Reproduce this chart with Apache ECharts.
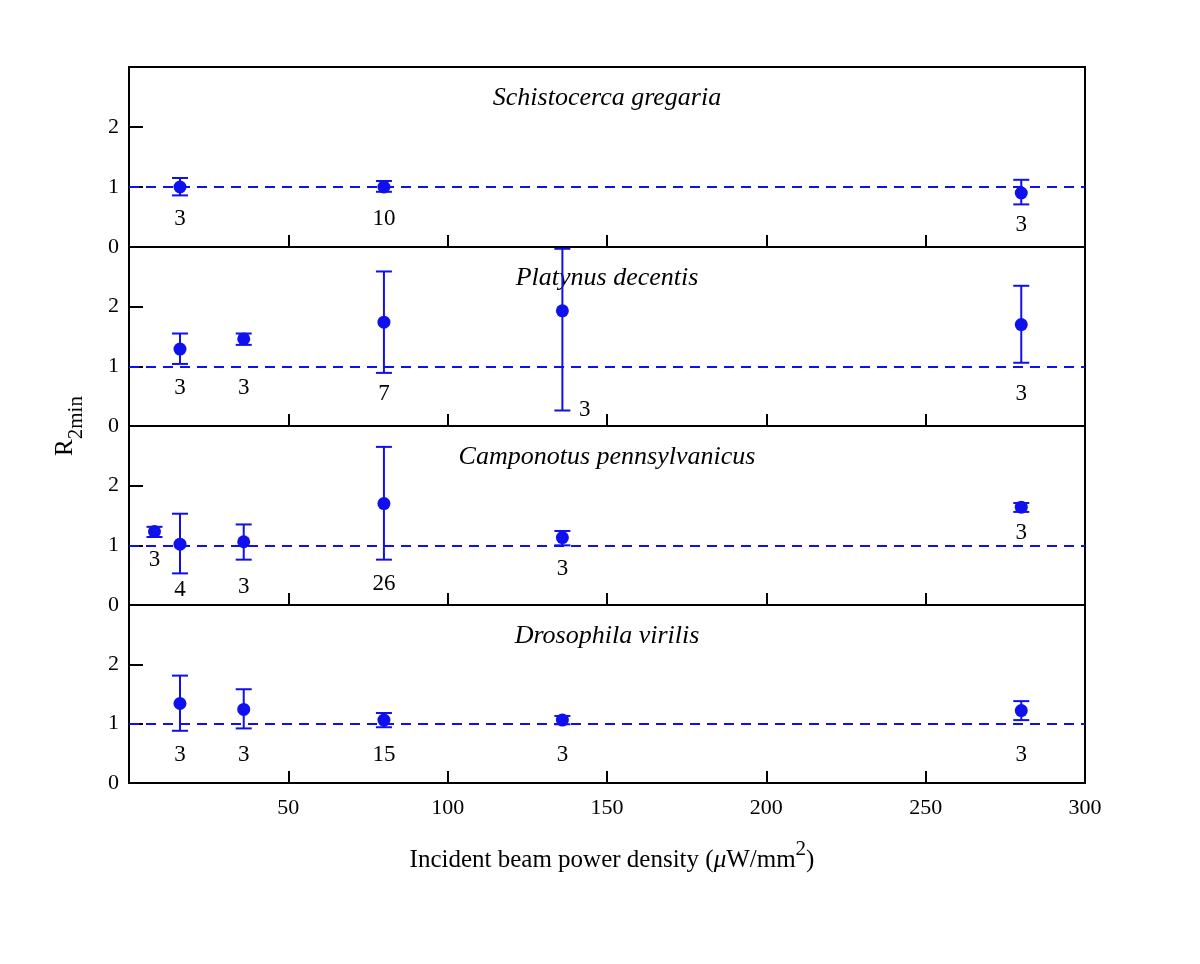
<!DOCTYPE html>
<html>
<head>
<meta charset="utf-8">
<script src="https://cdn.jsdelivr.net/npm/echarts@6/dist/echarts.min.js"></script>
<style>
  html, body { margin: 0; padding: 0; background: #fff; }
  #chart { width: 1200px; height: 964px; }
</style>
</head>
<body>
<div id="chart"></div>
<script>
// panel titles, top to bottom
const species = ['Schistocerca gregaria', 'Platynus decentis', 'Camponotus pennsylvanicus', 'Drosophila virilis'];
const xTicks = [0, 50, 100, 150, 200, 250, 300];
const yTicks = [0, 1, 2, 3];

// Schistocerca gregaria
const sgX = [16, 80, 280];
const sgMean = [1.00, 1.00, 0.90];
const sgLow = [0.86, 0.92, 0.71];
const sgHigh = [1.15, 1.10, 1.12];
const sgN = [3, 10, 3];
const sgLabelX = [16, 80, 280];
const sgLabelY = [0.46, 0.46, 0.37];

// Platynus decentis
const pdX = [16, 36, 80, 136, 280];
const pdMean = [1.29, 1.46, 1.74, 1.93, 1.70];
const pdLow = [1.04, 1.36, 0.89, 0.26, 1.06];
const pdHigh = [1.55, 1.55, 2.59, 2.97, 2.35];
const pdN = [3, 3, 7, 3, 3];
const pdLabelX = [16, 36, 80, 143, 280];
const pdLabelY = [0.64, 0.64, 0.53, 0.27, 0.53];

// Camponotus pennsylvanicus
const cpX = [8, 16, 36, 80, 136, 280];
const cpMean = [1.23, 1.02, 1.06, 1.70, 1.13, 1.64];
const cpLow = [1.14, 0.53, 0.76, 0.76, 1.00, 1.56];
const cpHigh = [1.31, 1.53, 1.35, 2.65, 1.24, 1.71];
const cpN = [3, 4, 3, 26, 3, 3];
const cpLabelX = [8, 16, 36, 80, 136, 280];
const cpLabelY = [0.76, 0.25, 0.31, 0.35, 0.61, 1.21];

// Drosophila virilis
const dvX = [16, 36, 80, 136, 280];
const dvMean = [1.34, 1.24, 1.06, 1.06, 1.22];
const dvLow = [0.88, 0.92, 0.94, 0.99, 1.06];
const dvHigh = [1.81, 1.58, 1.18, 1.13, 1.38];
const dvN = [3, 3, 15, 3, 3];
const dvLabelX = [16, 36, 80, 136, 280];
const dvLabelY = [0.47, 0.47, 0.47, 0.47, 0.47];

const panels = [
  { x: sgX, mean: sgMean, low: sgLow, high: sgHigh, n: sgN, lx: sgLabelX, ly: sgLabelY },
  { x: pdX, mean: pdMean, low: pdLow, high: pdHigh, n: pdN, lx: pdLabelX, ly: pdLabelY },
  { x: cpX, mean: cpMean, low: cpLow, high: cpHigh, n: cpN, lx: cpLabelX, ly: cpLabelY },
  { x: dvX, mean: dvMean, low: dvLow, high: dvHigh, n: dvN, lx: dvLabelX, ly: dvLabelY }
];

const BLUE = '#1010ee';
const FONT = '"Liberation Serif", "DejaVu Serif", serif';
const tops = [67, 247, 426, 605];
const heights = [180, 179, 179, 178];

function renderBar(params, api) {
  const x = api.value(0);
  const top = api.coord([x, api.value(2)]);
  const bot = api.coord([x, api.value(1)]);
  const w = 8;
  const style = { stroke: BLUE, lineWidth: 2 };
  return {
    type: 'group',
    children: [
      { type: 'line', shape: { x1: top[0], y1: top[1], x2: bot[0], y2: bot[1] }, style: style },
      { type: 'line', shape: { x1: top[0] - w, y1: top[1], x2: top[0] + w, y2: top[1] }, style: style },
      { type: 'line', shape: { x1: bot[0] - w, y1: bot[1], x2: bot[0] + w, y2: bot[1] }, style: style }
    ]
  };
}

// sample-size labels drawn as text at their data position
function renderCount(params, api) {
  const pt = api.coord([api.value(0), api.value(1)]);
  return {
    type: 'text', x: pt[0], y: pt[1],
    style: {
      text: String(api.value(2)), fill: '#000', font: '23px ' + FONT,
      align: 'center', verticalAlign: 'middle'
    }
  };
}

const grid = [], xAxis = [], yAxis = [], series = [], graphic = [];

panels.forEach(function (p, i) {
  grid.push({
    left: 129, right: 115, top: tops[i], height: heights[i],
    show: true, borderColor: '#000', borderWidth: 2, backgroundColor: 'transparent'
  });
  xAxis.push({
    type: 'value', gridIndex: i,
    min: xTicks[0], max: xTicks[xTicks.length - 1], interval: xTicks[1] - xTicks[0],
    axisLine: { show: true, lineStyle: { color: '#000', width: 2 } },
    axisTick: { show: true, inside: true, length: 12, lineStyle: { color: '#000', width: 2 } },
    axisLabel: {
      show: i === panels.length - 1, color: '#000', fontFamily: FONT, fontSize: 22, margin: 14,
      formatter: function (v) { return v === 0 ? '' : String(v); }
    },
    splitLine: { show: false }
  });
  yAxis.push({
    type: 'value', gridIndex: i,
    min: yTicks[0], max: yTicks[yTicks.length - 1], interval: yTicks[1] - yTicks[0],
    axisLine: { show: true, lineStyle: { color: '#000', width: 2 } },
    axisTick: { show: true, inside: true, length: 14, lineStyle: { color: '#000', width: 2 } },
    axisLabel: {
      color: '#000', fontFamily: FONT, fontSize: 22, margin: 10,
      formatter: function (v) { return v === 3 ? '' : String(v); }
    },
    splitLine: { show: false }
  });

  series.push({
    type: 'custom', xAxisIndex: i, yAxisIndex: i,
    renderItem: renderBar,
    encode: { x: 0, y: [1, 2] },
    data: p.x.map(function (x, k) { return [x, p.low[k], p.high[k]]; }),
    z: 3
  });
  series.push({
    type: 'scatter', xAxisIndex: i, yAxisIndex: i,
    symbol: 'circle', symbolSize: 13,
    itemStyle: { color: BLUE, opacity: 1 },
    data: p.x.map(function (x, k) { return [x, p.mean[k]]; }),
    z: 4,
    markLine: {
      silent: true, symbol: 'none', label: { show: false },
      lineStyle: { type: [10, 7], color: BLUE, width: 2, opacity: 1 },
      data: [{ yAxis: 1 }]
    }
  });
  series.push({
    type: 'custom', xAxisIndex: i, yAxisIndex: i,
    renderItem: renderCount,
    encode: { x: 0, y: 1 },
    data: p.lx.map(function (x, k) { return [x, p.ly[k], p.n[k]]; }),
    z: 5
  });

  graphic.push({
    type: 'text', x: 607, y: tops[i] + 31,
    style: {
      text: species[i], fill: '#000', font: 'italic 26px ' + FONT,
      align: 'center', verticalAlign: 'middle'
    }
  });
});

graphic.push({
  type: 'text', x: 612, y: 856,
  style: {
    text: '{a|Incident beam power density (}{i|μ}{a|W/mm}{s|2}{a|)}',
    align: 'center', verticalAlign: 'middle', fill: '#000',
    rich: {
      a: { fontFamily: FONT, fontSize: 25, lineHeight: 34, verticalAlign: 'bottom' },
      i: { fontFamily: FONT, fontSize: 25, fontStyle: 'italic', lineHeight: 34, verticalAlign: 'bottom' },
      s: { fontFamily: FONT, fontSize: 21, lineHeight: 34, verticalAlign: 'top' }
    }
  }
});
graphic.push({
  type: 'text', x: 70, y: 426, rotation: Math.PI / 2,
  style: {
    text: '{r|R}{s|2min}',
    align: 'center', verticalAlign: 'middle', fill: '#000',
    rich: {
      r: { fontFamily: FONT, fontSize: 25, lineHeight: 34, verticalAlign: 'top' },
      s: { fontFamily: FONT, fontSize: 21, lineHeight: 34, verticalAlign: 'bottom' }
    }
  }
});

const chart = echarts.init(document.getElementById('chart'));
chart.setOption({
  animation: false,
  backgroundColor: '#fff',
  grid: grid,
  xAxis: xAxis,
  yAxis: yAxis,
  series: series,
  graphic: graphic
});
</script>
</body>
</html>
